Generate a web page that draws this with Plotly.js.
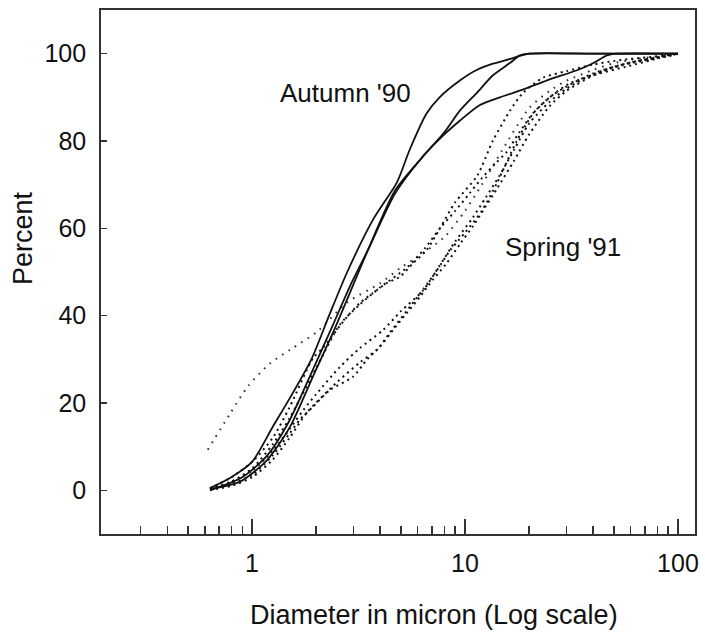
<!DOCTYPE html>
<html>
<head>
<meta charset="utf-8">
<script src="https://cdn.plot.ly/plotly-3.0.1.min.js"></script>
<style>html,body{margin:0;padding:0;background:#fff;}#chart{width:705px;height:639px;}</style>
</head>
<body>
<div id="chart"></div>
<script>
// ---- Autumn '90 (solid curves): diameter (micron) vs cumulative percent ----
const autumnA_d = [0.635, 0.8, 1.0, 1.25, 1.5, 1.9, 2.3, 2.8, 3.7, 4.8, 5.5, 6.6, 7.6, 9.5, 11.4, 13.5, 16.3, 20, 40, 100];
const autumnA_p = [0.5, 3, 6.5, 14.5, 21, 30, 40, 50, 62, 70.6, 78, 86.3, 90, 93.9, 96.3, 97.7, 98.8, 100, 100, 100];

const autumnB_d = [0.635, 0.88, 1.18, 1.51, 1.93, 2.4, 2.79, 3.5, 4.7, 6.28, 8, 9.48, 11.4, 13.5, 16.3, 18.1, 20.2, 40, 100];
const autumnB_p = [0.3, 2, 7, 14.6, 26, 36.1, 43.6, 55, 68.7, 76.2, 82, 87, 91.1, 95, 97.9, 99.6, 100, 100, 100];

const autumnC_d = [0.635, 0.9, 1.18, 1.5, 1.93, 2.4, 2.9, 3.5, 4.7, 6.28, 8, 9.48, 11.7, 14.6, 19.5, 24.3, 33.6, 39.9, 46.4, 51.7, 100];
const autumnC_p = [0, 3, 8, 16, 27.6, 37.9, 47, 55, 68, 76.2, 81.5, 84.7, 88.2, 90, 92.1, 93.9, 96.2, 97.8, 99.6, 100, 100];

// ---- Spring '91 (dotted curves) ----
const spring1_d = [0.62, 0.79, 0.96, 1.21, 1.51, 2.02, 2.79, 3.99, 5, 6, 8, 10, 12, 15, 20, 25, 30, 40, 50, 60, 80, 100];
const spring1_p = [9.3, 17.6, 23.9, 29.0, 32.2, 36.3, 43.0, 47.4, 51, 53.5, 58, 64, 70, 78, 87.5, 91.5, 93.8, 96.3, 97.8, 98.6, 99.4, 100];

const spring2_d = [0.635, 0.8, 1, 1.25, 1.5, 1.93, 2.15, 2.79, 3.21, 3.7, 4.3, 4.95, 5.7, 6.6, 7.63, 9, 11.4, 13.5, 16.3, 18.7, 23.3, 30, 40, 50, 60, 80, 100];
const spring2_p = [0.5, 3, 6.5, 12, 19, 30.2, 32.6, 39.7, 42.9, 45.2, 47.5, 48.9, 52, 55, 60, 66, 72, 80, 87, 91, 94.5, 96, 97.5, 98.3, 98.8, 99.4, 100];

const spring3_d = [0.635, 0.8, 1, 1.25, 1.5, 2, 2.59, 3.2, 4, 5.34, 6.5, 7.63, 9, 10.5, 12, 14, 15.7, 18, 21, 25, 30, 40, 50, 60, 80, 100];
const spring3_p = [0.3, 2, 5, 10.5, 16.5, 28, 38, 42.5, 46.5, 51, 55.5, 60, 64, 68, 71.5, 75, 77.5, 82, 86.5, 90, 92.5, 95.5, 97, 98, 99.2, 100];

const spring4_d = [0.635, 0.8, 1, 1.25, 1.5, 1.75, 2.0, 2.59, 3.2, 4.12, 5, 6.36, 7.5, 9, 10.9, 12.5, 14.5, 17, 20, 25, 30, 40, 50, 60, 80, 100];
const spring4_p = [0.3, 2, 4.5, 9, 14, 18.5, 22, 28.3, 32.5, 36.7, 41, 45.8, 51, 57, 62.5, 67, 72, 78, 84, 89, 92, 95.3, 97, 98, 99.2, 100];

const spring5_d = [0.635, 0.8, 1, 1.25, 1.5, 1.68, 1.93, 2.32, 2.98, 3.46, 3.99, 4.59, 5.33, 6.14, 7.06, 8.2, 9.5, 10.9, 12.5, 14.1, 17, 20, 25, 30, 40, 50, 60, 80, 100];
const spring5_p = [0.2, 1.5, 3.5, 8, 13, 16.2, 19.1, 23, 26, 29.9, 32.9, 36.7, 40.6, 44.3, 48.2, 52, 56.5, 60.5, 65, 69, 75.5, 81.5, 88, 91.5, 95, 96.8, 97.8, 99, 100];

const spring6_d = [0.635, 0.8, 1, 1.25, 1.5, 1.81, 2.5, 3.21, 3.86, 4.44, 5.52, 6.36, 7.38, 8.5, 10, 12, 14.1, 17.5, 20.9, 25, 31, 43, 57, 82, 98];
const spring6_p = [0.1, 1, 3, 7, 12, 17.8, 24.7, 29.3, 32.2, 36.1, 42.1, 46, 50.4, 54.9, 59, 64, 70.3, 80, 86.3, 90, 93.2, 95.5, 97, 99, 99.8];

// ---- axis ticks and labels ----
const xMajorTicks = [1, 10, 100];
const xMajorLabels = ['1', '10', '100'];
const xMinorTicks = [0.3, 0.4, 0.5, 0.6, 0.7, 0.8, 0.9, 2, 3, 4, 5, 6, 7, 8, 9, 20, 30, 40, 50, 60, 70, 80, 90];
const yTicks = [0, 20, 40, 60, 80, 100];
const xTitle = 'Diameter in micron (Log scale)';
const yTitle = 'Percent';
const labelAutumn = "Autumn '90";
const labelSpring = "Spring '91";

const FONT = 'Liberation Sans, Arial, Helvetica, sans-serif';

function solid(d, p) {
  return {x: d, y: p, type: 'scatter', mode: 'lines', hoverinfo: 'skip', showlegend: false,
    line: {color: '#111', width: 1.8, shape: 'spline', smoothing: 0.7}};
}
function dotted(d, p, dash, color) {
  return {x: d, y: p, type: 'scatter', mode: 'lines', hoverinfo: 'skip', showlegend: false,
    line: {color: color || '#111', width: 2, dash: dash || '2px,4px', shape: 'spline', smoothing: 0.7}};
}

const data = [
  dotted(spring1_d, spring1_p, '1.6px,6px', '#333'),
  dotted(spring2_d, spring2_p),
  dotted(spring3_d, spring3_p),
  dotted(spring4_d, spring4_p),
  dotted(spring5_d, spring5_p),
  dotted(spring6_d, spring6_p),
  solid(autumnA_d, autumnA_p),
  solid(autumnB_d, autumnB_p),
  solid(autumnC_d, autumnC_p)
];

const axisLine = '#333';
const txt = {family: FONT, color: '#111'};
const layout = {
  width: 705, height: 639,
  margin: {l: 101, r: 10, t: 10, b: 105, pad: 0},
  paper_bgcolor: '#fff', plot_bgcolor: '#fff',
  font: {family: FONT, color: '#111', size: 24},
  showlegend: false,
  xaxis: {
    type: 'log', range: [-0.709, 2.080],
    tickmode: 'array', tickvals: xMajorTicks, ticktext: xMajorLabels,
    ticks: 'inside', ticklen: 15, tickwidth: 1.5, tickcolor: axisLine,
    minor: {tickmode: 'array', tickvals: xMinorTicks, ticks: 'inside', ticklen: 8, tickwidth: 1.5, tickcolor: axisLine, showgrid: false},
    showline: true, linecolor: axisLine, linewidth: 1.8, mirror: true,
    showgrid: false, zeroline: false,
    tickfont: Object.assign({size: 25}, txt),
    ticklabelstandoff: 6
  },
  yaxis: {
    range: [-10, 110],
    tickmode: 'array', tickvals: yTicks,
    ticks: 'inside', ticklen: 6, tickwidth: 1.5, tickcolor: axisLine,
    showline: true, linecolor: axisLine, linewidth: 1.8, mirror: true,
    showgrid: false, zeroline: false,
    tickfont: Object.assign({size: 25}, txt),
    ticklabelstandoff: 8
  },
  annotations: [
    {text: labelAutumn, xref: 'paper', yref: 'paper', x: 0.4116, y: 0.8416, xanchor: 'center', yanchor: 'middle', showarrow: false, font: Object.assign({size: 26}, txt)},
    {text: labelSpring, xref: 'paper', yref: 'paper', x: 0.7778, y: 0.5477, xanchor: 'center', yanchor: 'middle', showarrow: false, font: Object.assign({size: 26}, txt)},
    {text: xTitle, xref: 'paper', yref: 'paper', x: 0.5614, y: -0.1546, xanchor: 'center', yanchor: 'middle', showarrow: false, font: Object.assign({size: 27}, txt)},
    {text: yTitle, xref: 'paper', yref: 'paper', x: -0.1313, y: 0.5649, xanchor: 'center', yanchor: 'middle', textangle: -90, showarrow: false, font: Object.assign({size: 27}, txt)}
  ]
};

Plotly.newPlot('chart', data, layout, {staticPlot: true, displayModeBar: false});
</script>
</body>
</html>
